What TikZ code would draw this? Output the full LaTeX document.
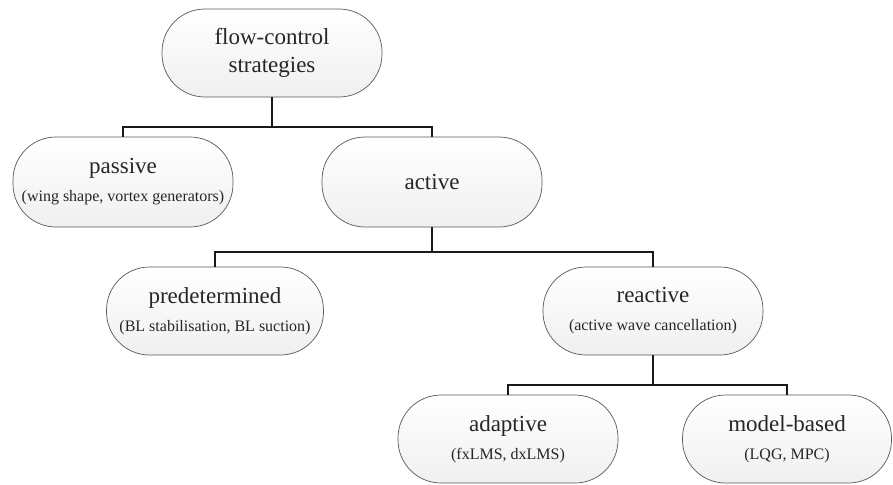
\documentclass[tikz,border=0pt]{standalone}
\usepackage{fontspec}
\setmainfont{Liberation Serif}
\tikzset{
  pill/.style={draw=black!65, line width=0.7pt, rounded corners=43pt,
    top color=white, bottom color=black!6, inner sep=0pt,
    minimum height=88pt, align=center, text=black!85,
    font=\fontsize{23}{28}\selectfont},
  conn/.style={draw=black!90, line width=2.2pt},
}
\newcommand{\subtxt}[1]{{\fontsize{16}{28}\selectfont #1}}
\begin{document}
\begin{tikzpicture}[x=1pt,y=-1pt]
\useasboundingbox (0,0) rectangle (893,484);
\node[pill, minimum width=220pt] (top) at (272,53) {flow-control\\strategies};
\node[pill, minimum width=220pt, minimum height=90pt] (passive) at (123,182) {passive\\\subtxt{(wing shape, vortex generators)}};
\node[pill, minimum width=220pt, minimum height=90pt] (active) at (432,182) {active};
\node[pill, minimum width=217pt] (pred) at (215,311) {predetermined\\\subtxt{(BL stabilisation, BL suction)}};
\node[pill, minimum width=220pt] (react) at (653,311) {reactive\\\subtxt{(active wave cancellation)}};
\node[pill, minimum width=220pt] (adapt) at (508,439) {adaptive\\\subtxt{(fxLMS, dxLMS)}};
\node[pill, minimum width=209pt] (model) at (787,439) {model-based\\\subtxt{(LQG, MPC)}};
\coordinate (j1) at (272,127);
\coordinate (j2) at (432,252);
\coordinate (j3) at (653,385);
\draw[conn] (top.south) -- (j1);
\draw[conn] (j1) -| (passive.north);
\draw[conn] (j1) -| (active.north);
\draw[conn] (active.south) -- (j2);
\draw[conn] (j2) -| (pred.north);
\draw[conn] (j2) -| (react.north);
\draw[conn] (react.south) -- (j3);
\draw[conn] (j3) -| (adapt.north);
\draw[conn] (j3) -| (model.north);
\end{tikzpicture}
\end{document}
